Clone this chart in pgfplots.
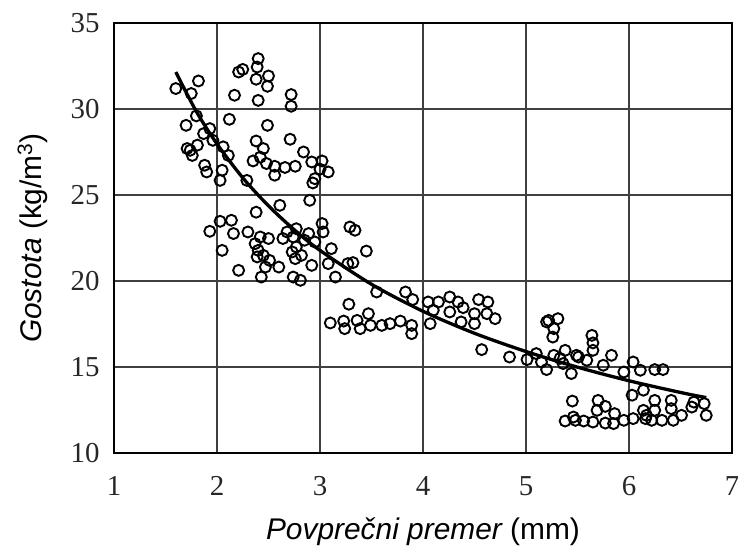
\documentclass[border=0pt]{standalone}
\usepackage{fontspec}
\setmainfont{Liberation Serif}
\newfontfamily\lsans{Liberation Sans}
\usepackage{pgfplots}
\pgfplotsset{compat=1.18}
\begin{document}
\begin{tikzpicture}
\begin{axis}[
  scale only axis,
  width=618bp, height=430bp,
  xmin=1, xmax=7, ymin=10, ymax=35,
  xtick={1,2,3,4,5,6,7},
  ytick={10,15,20,25,30,35},
  major tick length=0pt,
  grid=major,
  major grid style={black!75, line width=1.4bp},
  axis line style={black, line width=1.6bp},
  /pgf/number format/assume math mode=true,
  tick label style={font=\fontsize{29}{29}\selectfont, text=black!85},
  xticklabel style={yshift=-20bp},
  yticklabel style={xshift=-11bp},
  xlabel={\lsans\itshape Povprečni premer\upshape\ (mm)},
  ylabel={\lsans\itshape Gostota\upshape\ (kg/m\textsuperscript{3})},
  label style={font=\lsans\fontsize{30}{30}\selectfont},
  xlabel style={at={(axis description cs:0.5,-0.183)}, anchor=center},
  ylabel style={at={(axis description cs:-0.132,0.5)}, anchor=center},
  clip=false,
]
\addplot[only marks, mark=o, mark size=5.5bp, mark options={line width=1.9bp, black}] coordinates {
(1.60,31.19) (1.82,31.63) (1.75,30.90) (2.25,32.30) (2.21,32.15) (2.40,32.93)
(2.39,32.44) (2.50,31.92) (2.38,31.73) (2.49,31.32) (2.17,30.80) (2.40,30.50)
(2.72,30.84) (2.72,30.16) (2.12,29.40) (2.49,29.05) (1.70,29.05) (1.80,29.60)
(2.71,28.24) (2.38,28.14) (2.45,27.70) (2.84,27.50) (2.42,27.20) (2.35,26.98)
(2.48,26.83) (2.56,26.67) (2.66,26.60) (2.76,26.67) (2.92,26.92) (3.02,26.98)
(3.08,26.34) (3.00,26.50) (2.95,25.95) (2.93,25.70) (2.56,26.15) (1.88,26.73)
(1.90,26.34) (2.05,26.44) (2.03,25.85) (1.74,27.60) (1.71,27.70) (1.76,27.30)
(1.81,27.90) (1.87,28.57) (1.93,28.86) (1.96,28.18) (2.06,27.80) (2.11,27.30)
(2.29,25.85)
(2.90,24.69) (2.61,24.40) (2.38,24.00) (2.03,23.47) (2.14,23.53) (1.93,22.89)
(2.16,22.76) (2.30,22.85) (2.42,22.56) (2.50,22.47) (2.05,21.78) (2.37,22.17)
(2.40,21.78) (2.45,21.49) (2.39,21.40) (2.51,21.20) (2.47,20.81) (2.60,20.81)
(2.21,20.62) (2.43,20.23) (2.64,22.47) (2.68,22.85) (2.77,23.04) (2.74,22.56)
(2.89,22.76) (3.02,23.34) (3.03,22.85) (2.77,21.98) (2.73,21.69) (2.82,21.49)
(2.76,21.30) (2.92,20.91) (2.74,20.23) (2.81,20.04) (3.11,21.88) (3.08,21.01)
(3.15,20.23) (3.29,23.14) (3.34,22.95) (3.27,21.01) (2.95,22.27) (2.85,22.37)
(3.45,21.74) (3.32,21.07)
(3.55,19.36) (3.83,19.36) (3.90,18.92) (3.28,18.65) (3.10,17.56) (3.23,17.67)
(3.24,17.23) (3.36,17.71) (3.39,17.23) (3.47,18.10) (3.49,17.42) (3.60,17.42)
(3.68,17.52) (3.78,17.67) (3.89,17.42) (3.89,16.94) (4.05,18.78) (4.15,18.78)
(4.26,19.07) (4.34,18.78) (4.39,18.45) (4.26,18.20) (4.54,18.92) (4.63,18.78)
(4.70,17.81) (4.50,18.10) (4.62,18.10) (4.50,17.52) (4.07,17.52) (4.37,17.62)
(4.57,16.01) (4.10,18.30) (4.84,15.58) (5.01,15.43) (5.10,15.78) (5.20,17.62)
(5.15,15.29) (5.20,14.85) (5.22,17.71) (5.31,17.81) (5.27,17.23) (5.26,16.74)
(5.27,15.68) (5.38,15.97) (5.36,15.20) (5.44,14.62) (5.49,15.68) (5.51,15.58)
(5.64,16.84) (5.65,15.97) (5.65,16.40) (5.59,15.39) (5.75,15.10) (5.83,15.68)
(5.95,14.71) (6.04,15.29) (6.11,14.81) (6.25,14.85) (6.33,14.85) (5.33,15.50)
(5.45,13.02) (5.38,11.86) (5.46,12.09) (5.56,11.86) (5.65,11.80) (5.70,13.06)
(5.69,12.48) (5.77,12.71) (5.77,11.74) (5.86,12.29) (5.85,11.71) (5.95,11.90)
(6.04,12.00) (6.03,13.36) (6.14,13.65) (6.14,12.48) (6.16,12.00) (6.25,13.06)
(6.25,12.48) (6.32,11.90) (6.41,13.06) (6.41,12.58) (6.43,11.90) (6.51,12.19)
(6.61,12.67) (6.63,12.96) (6.73,12.87) (6.75,12.19) (6.22,11.90) (6.17,12.19)
(5.48,11.90)
};
\addplot[black, line width=3.3bp, smooth] coordinates {
(1.6,32.15) (1.8,29.85) (2.0,27.97) (2.25,26.0) (2.5,24.37) (2.75,22.98)
(3.0,21.78) (3.5,19.81) (4.0,18.24) (4.5,16.96) (5.0,15.9) (5.5,14.99)
(6.0,14.2) (6.5,13.52) (6.75,13.22)
};
\end{axis}
\pgfresetboundingbox
\path (current axis.south west) ++(-114bp,-93bp) rectangle ++(738bp,546bp);
\end{tikzpicture}
\end{document}
